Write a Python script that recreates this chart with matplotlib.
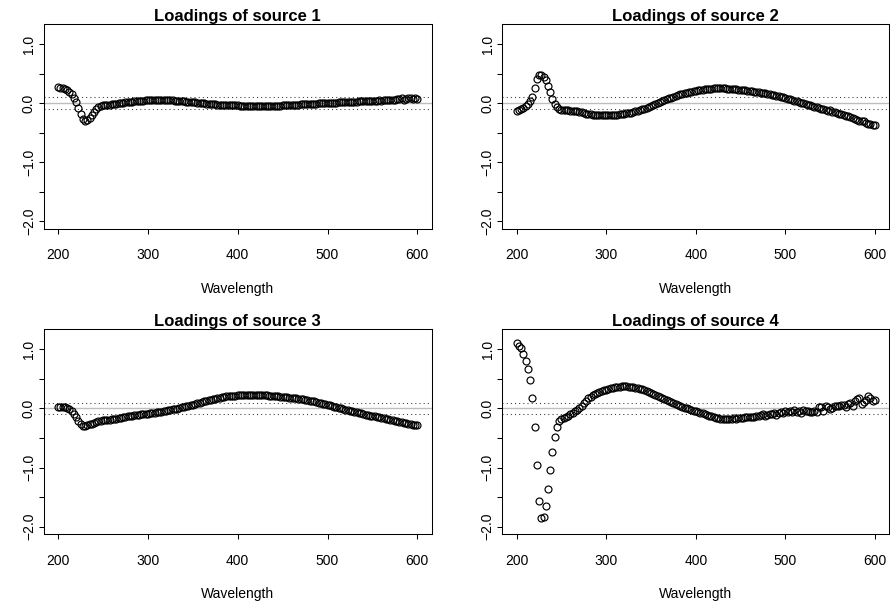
import numpy as np
import matplotlib
matplotlib.use("Agg")
import matplotlib.pyplot as plt

plt.rcParams['font.family'] = ['Liberation Sans', 'DejaVu Sans']

# wavelength grid, 2.5 nm steps
wavelength = np.arange(200, 602.5, 2.5)

titles = ["Loadings of source 1", "Loadings of source 2",
          "Loadings of source 3", "Loadings of source 4"]

source1 = [0.27, 0.26, 0.25, 0.24, 0.22, 0.19, 0.15, 0.09, 0.01, -0.09,
           -0.19, -0.27, -0.30, -0.29, -0.25, -0.20, -0.15, -0.10, -0.07, -0.05,
           -0.04, -0.035, -0.03, -0.025, -0.02, -0.015, -0.01, -0.005, 0.0, 0.005,
           0.01, 0.015, 0.02, 0.025, 0.03, 0.033, 0.036, 0.039, 0.042, 0.044,
           0.046, 0.048, 0.05, 0.051, 0.052, 0.052, 0.052, 0.051, 0.05, 0.049,
           0.047, 0.045, 0.043, 0.04, 0.037, 0.034, 0.03, 0.026, 0.022, 0.018,
           0.014, 0.01, 0.006, 0.002, -0.002, -0.006, -0.01, -0.013, -0.016, -0.019,
           -0.022, -0.025, -0.027, -0.029, -0.031, -0.033, -0.035, -0.037, -0.038, -0.04,
           -0.041, -0.042, -0.043, -0.044, -0.045, -0.046, -0.047, -0.047, -0.048, -0.048,
           -0.049, -0.05, -0.05, -0.049, -0.048, -0.047, -0.046, -0.045, -0.043, -0.042,
           -0.04, -0.038, -0.036, -0.034, -0.032, -0.03, -0.028, -0.026, -0.024, -0.022,
           -0.02, -0.018, -0.016, -0.013, -0.011, -0.009, -0.007, -0.004, -0.002, 0.0,
           0.002, 0.004, 0.006, 0.008, 0.009, 0.011, 0.013, 0.014, 0.016, 0.018,
           0.02, 0.021, 0.023, 0.026, 0.028, 0.03, 0.032, 0.035, 0.033, 0.037,
           0.04, 0.038, 0.042, 0.045, 0.043, 0.048, 0.05, 0.047, 0.055, 0.058,
           0.054, 0.062, 0.075, 0.082, 0.06, 0.072, 0.085, 0.08, 0.07, 0.078,
           0.075]

source2 = [-0.13, -0.115, -0.10, -0.08, -0.055, -0.02, 0.03, 0.11, 0.26, 0.40,
           0.47, 0.48, 0.45, 0.39, 0.29, 0.18, 0.07, -0.02, -0.07, -0.10,
           -0.115, -0.12, -0.12, -0.125, -0.13, -0.13, -0.135, -0.14, -0.15, -0.16,
           -0.17, -0.178, -0.185, -0.19, -0.195, -0.198, -0.2, -0.202, -0.204, -0.205,
           -0.206, -0.206, -0.205, -0.203, -0.2, -0.197, -0.193, -0.188, -0.183, -0.177,
           -0.17, -0.162, -0.153, -0.143, -0.132, -0.12, -0.107, -0.093, -0.078, -0.063,
           -0.047, -0.031, -0.015, 0.001, 0.017, 0.033, 0.049, 0.064, 0.079, 0.093,
           0.107, 0.12, 0.133, 0.145, 0.156, 0.167, 0.177, 0.186, 0.195, 0.203,
           0.21, 0.217, 0.223, 0.229, 0.234, 0.238, 0.242, 0.245, 0.248, 0.25,
           0.258, 0.252, 0.25, 0.248, 0.246, 0.243, 0.24, 0.236, 0.232, 0.228,
           0.224, 0.22, 0.215, 0.21, 0.205, 0.2, 0.195, 0.19, 0.184, 0.178,
           0.172, 0.165, 0.158, 0.15, 0.142, 0.134, 0.125, 0.116, 0.106, 0.096,
           0.086, 0.076, 0.065, 0.054, 0.043, 0.032, 0.02, 0.009, -0.003, -0.014,
           -0.026, -0.037, -0.049, -0.06, -0.075, -0.09, -0.1, -0.095, -0.12, -0.13,
           -0.125, -0.145, -0.16, -0.17, -0.185, -0.19, -0.2, -0.22, -0.225, -0.24,
           -0.25, -0.27, -0.285, -0.3, -0.31, -0.3, -0.33, -0.35, -0.36, -0.37,
           -0.38]

source3 = [0.03, 0.028, 0.025, 0.018, 0.008, -0.01, -0.04, -0.09, -0.15, -0.21,
           -0.26, -0.29, -0.295, -0.285, -0.27, -0.255, -0.24, -0.228, -0.218, -0.21,
           -0.203, -0.197, -0.192, -0.187, -0.182, -0.176, -0.17, -0.163, -0.156, -0.149,
           -0.142, -0.135, -0.128, -0.122, -0.117, -0.112, -0.107, -0.102, -0.097, -0.092,
           -0.087, -0.082, -0.077, -0.071, -0.065, -0.059, -0.053, -0.046, -0.039, -0.032,
           -0.025, -0.017, -0.009, -0.001, 0.008, 0.017, 0.026, 0.036, 0.046, 0.056,
           0.066, 0.077, 0.088, 0.099, 0.11, 0.12, 0.13, 0.14, 0.15, 0.159,
           0.168, 0.176, 0.184, 0.191, 0.197, 0.203, 0.208, 0.212, 0.216, 0.219,
           0.222, 0.224, 0.226, 0.228, 0.229, 0.23, 0.231, 0.231, 0.231, 0.23,
           0.229, 0.227, 0.225, 0.222, 0.219, 0.215, 0.211, 0.207, 0.203, 0.199,
           0.195, 0.191, 0.187, 0.183, 0.179, 0.175, 0.17, 0.165, 0.16, 0.154,
           0.148, 0.141, 0.134, 0.126, 0.118, 0.109, 0.1, 0.091, 0.082, 0.072,
           0.062, 0.052, 0.042, 0.032, 0.022, 0.012, 0.002, -0.008, -0.018, -0.028,
           -0.038, -0.048, -0.058, -0.067, -0.076, -0.085, -0.094, -0.103, -0.112, -0.12,
           -0.128, -0.136, -0.144, -0.152, -0.16, -0.168, -0.176, -0.184, -0.192, -0.2,
           -0.208, -0.216, -0.224, -0.232, -0.24, -0.248, -0.256, -0.264, -0.272, -0.28,
           -0.288]

source4 = [1.10, 1.06, 1.02, 0.92, 0.80, 0.67, 0.49, 0.18, -0.32, -0.96,
           -1.56, -1.85, -1.83, -1.65, -1.37, -1.04, -0.73, -0.49, -0.32, -0.21,
           -0.17, -0.16, -0.15, -0.12, -0.09, -0.07, -0.05, -0.03, 0.01, 0.05,
           0.09, 0.13, 0.17, 0.2, 0.23, 0.25, 0.27, 0.285, 0.3, 0.31,
           0.32, 0.33, 0.34, 0.35, 0.36, 0.365, 0.37, 0.372, 0.373, 0.372,
           0.37, 0.365, 0.36, 0.352, 0.343, 0.333, 0.322, 0.31, 0.297, 0.283,
           0.268, 0.252, 0.235, 0.217, 0.198, 0.179, 0.16, 0.141, 0.122, 0.104,
           0.087, 0.07, 0.054, 0.039, 0.025, 0.012, 0.0, -0.012, -0.024, -0.036,
           -0.048, -0.06, -0.072, -0.084, -0.096, -0.108, -0.12, -0.132, -0.144, -0.155,
           -0.165, -0.173, -0.18, -0.183, -0.18, -0.17, -0.175, -0.165, -0.17, -0.16,
           -0.155, -0.158, -0.15, -0.145, -0.14, -0.148, -0.138, -0.13, -0.125, -0.11,
           -0.095, -0.12, -0.105, -0.09, -0.1, -0.085, -0.11, -0.08, -0.06, -0.075,
           -0.05, -0.065, -0.04, -0.055, -0.03, -0.06, -0.045, -0.07, -0.02, -0.05,
           -0.035, -0.055, -0.06, -0.045, -0.055, 0.03, 0.02, -0.045, 0.04, 0.02,
           -0.01, 0.01, 0.035, 0.05, 0.04, 0.06, 0.055, 0.02, 0.07, 0.1,
           0.05, 0.13, 0.16, 0.18, 0.07, 0.11, 0.15, 0.21, 0.17, 0.13,
           0.15]

sources = [source1, source2, source3, source4]

xticks = [200, 300, 400, 500, 600]
yticks = [-2.0, -1.5, -1.0, -0.5, 0.0, 0.5, 1.0]
ytick_labels = ["\u22122.0", "", "\u22121.0", "", "0.0", "", "1.0"]

W, H = 890, 605
fig = plt.figure(figsize=(W / 100, H / 100), dpi=100)

# panel boxes in pixels: left, top, right, bottom
boxes = [(43.7, 24, 431.7, 228.7), (502.3, 24, 889.3, 228.7),
         (43.7, 329.3, 431.7, 534.3), (502.3, 329.3, 889.3, 534.3)]

for k in range(4):
    l, t, r, b = boxes[k]
    ax = fig.add_axes([l / W, 1 - b / H, (r - l) / W, (b - t) / H])

    ax.axhline(0, color='#bebebe', lw=1, zorder=1)
    ax.axhline(0.1, color='#333333', lw=0.75, ls=(0, (1, 3)), zorder=1)
    ax.axhline(-0.1, color='#333333', lw=0.75, ls=(0, (1, 3)), zorder=1)
    ax.plot(wavelength, sources[k], 'o', mfc='none', mec='black',
            ms=5.0, mew=0.85, zorder=2)

    ax.set_xlim(184, 616)
    ax.set_ylim(-2.13, 1.34)
    ax.set_xticks(xticks)
    ax.set_yticks(yticks)
    ax.set_yticklabels(ytick_labels, rotation=90, va='center')
    ax.tick_params(direction='out', length=3.6, width=0.75, labelsize=10,
                   colors='black')
    ax.tick_params(axis='x', pad=10.5)
    ax.tick_params(axis='y', pad=2)
    for s in ax.spines.values():
        s.set_linewidth(0.75)

    ax.set_title(titles[k], fontsize=12, fontweight='bold', pad=1)
    ax.text(0.5, -60 / (b - t), "Wavelength", transform=ax.transAxes,
            ha='center', va='center', fontsize=10)

fig.savefig("out.png", dpi=100)
